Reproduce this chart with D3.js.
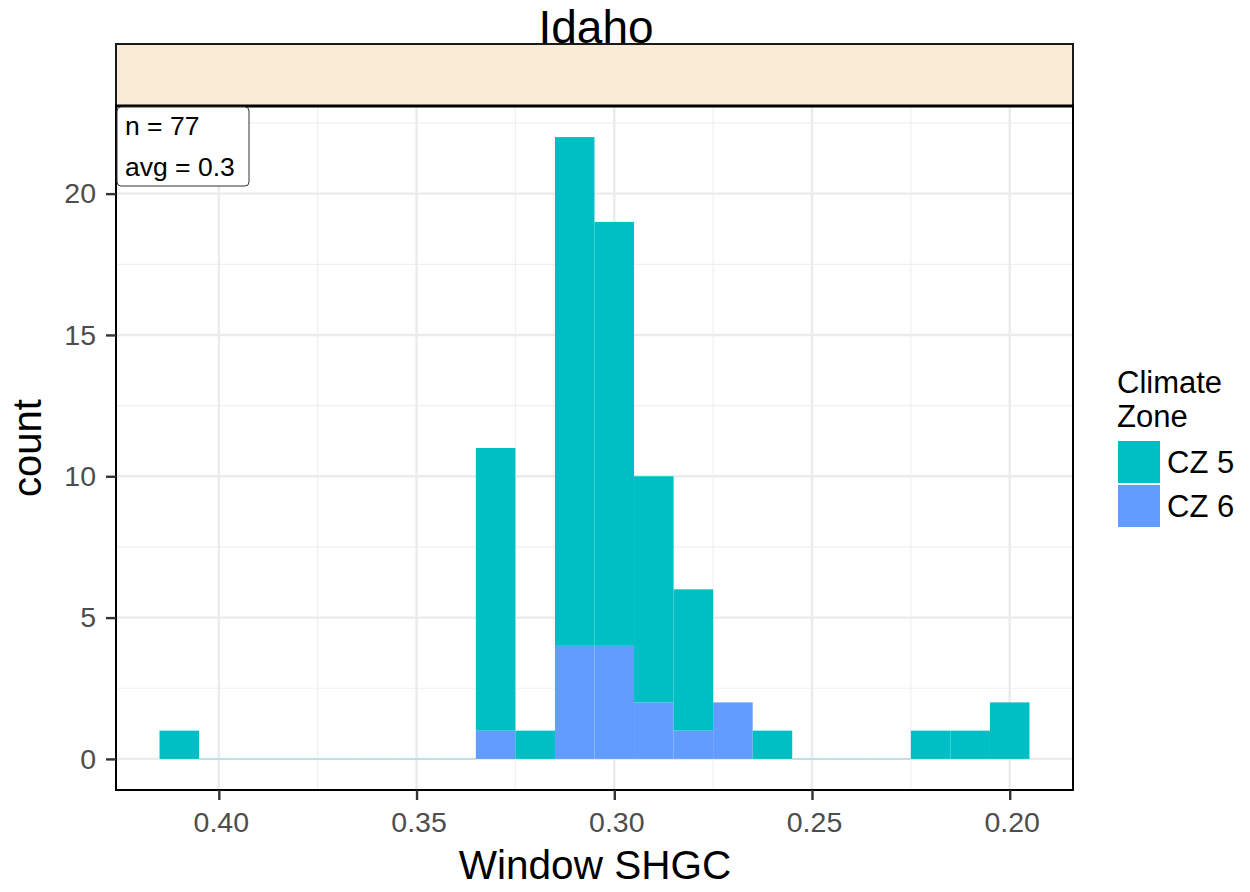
<!DOCTYPE html>
<html>
<head>
<meta charset="utf-8">
<script src="https://cdnjs.cloudflare.com/ajax/libs/d3/7.8.5/d3.min.js"></script>
<style>
  body { margin: 0; background: #fff; }
  text { font-family: "Liberation Sans", Arial, sans-serif; }
</style>
</head>
<body>
<div id="chart"></div>
<script>
// histogram bins (centres, width 0.01) and stacked counts per climate zone
var binCentres = [0.41, 0.40, 0.39, 0.38, 0.37, 0.36, 0.35, 0.34, 0.33, 0.32, 0.31,
                  0.30, 0.29, 0.28, 0.27, 0.26, 0.25, 0.24, 0.23, 0.22, 0.21, 0.20];
var cz5 = [1, 0, 0, 0, 0, 0, 0, 0, 10, 1, 18, 15, 8, 5, 0, 1, 0, 0, 0, 1, 1, 2];
var cz6 = [0, 0, 0, 0, 0, 0, 0, 0, 1, 0, 4, 4, 2, 1, 2, 0, 0, 0, 0, 0, 0, 0];
var zones = ["CZ 5", "CZ 6"];
var zoneColors = ["#00BFC4", "#619CFF"];
var xTicks = [0.40, 0.35, 0.30, 0.25, 0.20];
var xMinor = [0.375, 0.325, 0.275, 0.225];
var yTicks = [0, 5, 10, 15, 20];
var yMinor = [2.5, 7.5, 12.5, 17.5, 22.5];
var binWidth = 0.01;
var title = "Idaho";
var labelLines = ["n = 77", "avg = 0.3"];

var width = 1250, height = 892;
var panel = { left: 116, right: 1073, top: 106, bottom: 790 };

var svg = d3.select("#chart").append("svg")
    .attr("width", width)
    .attr("height", height);

// reversed x axis, ggplot style 5% expansion
var xMin = d3.min(binCentres) - binWidth / 2, xMax = d3.max(binCentres) + binWidth / 2;
var xPad = (xMax - xMin) * 0.05;
var x = d3.scaleLinear()
    .domain([xMax + xPad, xMin - xPad])
    .range([panel.left, panel.right]);

var totals = binCentres.map(function(d, i) { return cz5[i] + cz6[i]; });
var yMax = d3.max(totals);
var y = d3.scaleLinear()
    .domain([-yMax * 0.05, yMax * 1.05])
    .range([panel.bottom, panel.top]);

// grid
var g = svg.append("g");
g.selectAll(".xminor").data(xMinor).enter().append("line")
    .attr("x1", x).attr("x2", x)
    .attr("y1", panel.top).attr("y2", panel.bottom)
    .attr("stroke", "#f0f0f0").attr("stroke-width", 1.2);
g.selectAll(".yminor").data(yMinor).enter().append("line")
    .attr("x1", panel.left).attr("x2", panel.right)
    .attr("y1", y).attr("y2", y)
    .attr("stroke", "#f0f0f0").attr("stroke-width", 1.2);
g.selectAll(".xmajor").data(xTicks).enter().append("line")
    .attr("x1", x).attr("x2", x)
    .attr("y1", panel.top).attr("y2", panel.bottom)
    .attr("stroke", "#ebebeb").attr("stroke-width", 2.4);
g.selectAll(".ymajor").data(yTicks).enter().append("line")
    .attr("x1", panel.left).attr("x2", panel.right)
    .attr("y1", y).attr("y2", y)
    .attr("stroke", "#ebebeb").attr("stroke-width", 2.4);

// stacked bars: CZ 6 at bottom, CZ 5 on top
var bars = svg.append("g");
binCentres.forEach(function(c, i) {
    var x0 = x(c + binWidth / 2), x1 = x(c - binWidth / 2);
    if (totals[i] === 0) {
        bars.append("line")
            .attr("x1", x0).attr("x2", x1)
            .attr("y1", y(0)).attr("y2", y(0))
            .attr("stroke", "#b3dbe6").attr("stroke-width", 1.5);
        return;
    }
    if (cz6[i] > 0) {
        bars.append("rect")
            .attr("x", x0).attr("width", x1 - x0)
            .attr("y", y(cz6[i])).attr("height", y(0) - y(cz6[i]))
            .attr("fill", zoneColors[1]);
    }
    if (cz5[i] > 0) {
        bars.append("rect")
            .attr("x", x0).attr("width", x1 - x0)
            .attr("y", y(cz6[i] + cz5[i])).attr("height", y(cz6[i]) - y(cz6[i] + cz5[i]))
            .attr("fill", zoneColors[0]);
    }
});

// panel border
svg.append("rect")
    .attr("x", panel.left).attr("y", panel.top)
    .attr("width", panel.right - panel.left).attr("height", panel.bottom - panel.top)
    .attr("fill", "none").attr("stroke", "#000").attr("stroke-width", 2);

// axes
var xAxis = svg.append("g")
    .attr("transform", "translate(0," + panel.bottom + ")")
    .call(d3.axisBottom(x).tickValues(xTicks).tickFormat(d3.format(".2f")).tickSize(10).tickPadding(0));
var yAxis = svg.append("g")
    .attr("transform", "translate(" + panel.left + ",0)")
    .call(d3.axisLeft(y).tickValues(yTicks).tickSize(10).tickPadding(10));
[xAxis, yAxis].forEach(function(a) {
    a.select(".domain").remove();
    a.selectAll(".tick line").attr("stroke", "#333").attr("stroke-width", 2.4);
    a.selectAll(".tick text")
        .attr("fill", "#4d4d4d")
        .style("font-size", "28.5px")
        .style("font-family", "'Liberation Sans', Arial, sans-serif");
});
xAxis.selectAll(".tick text").attr("dy", null).attr("y", 42).attr("x", 2);

// axis titles
svg.append("text")
    .attr("x", 595).attr("y", 879)
    .attr("text-anchor", "middle")
    .style("font-size", "40.5px")
    .text("Window SHGC");
svg.append("text")
    .attr("transform", "translate(41,448) rotate(-90)")
    .attr("text-anchor", "middle")
    .style("font-size", "40px")
    .text("count");

// title then facet strip (strip drawn over the title as in the source)
svg.append("text")
    .attr("x", 596).attr("y", 43)
    .attr("text-anchor", "middle")
    .style("font-size", "46px")
    .text(title);
svg.append("rect")
    .attr("x", panel.left).attr("y", 44)
    .attr("width", panel.right - panel.left).attr("height", panel.top - 44)
    .attr("fill", "#FAEBD7").attr("stroke", "#1a1a1a").attr("stroke-width", 2);
svg.append("line")
    .attr("x1", panel.left - 1).attr("x2", panel.right + 1)
    .attr("y1", panel.top).attr("y2", panel.top)
    .attr("stroke", "#000").attr("stroke-width", 3);

// n / avg label
var lab = svg.append("g");
lab.append("rect")
    .attr("x", panel.left + 1).attr("y", panel.top + 1)
    .attr("width", 132).attr("height", 79)
    .attr("rx", 4).attr("ry", 4)
    .attr("fill", "#fff").attr("stroke", "#333").attr("stroke-width", 1);
lab.selectAll("text").data(labelLines).enter().append("text")
    .attr("x", panel.left + 9)
    .attr("y", function(d, i) { return 135 + i * 41; })
    .style("font-size", "26.5px")
    .text(function(d) { return d; });

// legend
var leg = svg.append("g");
leg.append("text").attr("x", 1117).attr("y", 393).style("font-size", "31px").text("Climate");
leg.append("text").attr("x", 1117).attr("y", 427).style("font-size", "31px").text("Zone");
zones.forEach(function(z, i) {
    leg.append("rect")
        .attr("x", 1118).attr("y", 441 + i * 44)
        .attr("width", 42).attr("height", 42)
        .attr("fill", zoneColors[i]);
    leg.append("text")
        .attr("x", 1167).attr("y", 473 + i * 44)
        .style("font-size", "31px")
        .text(z);
});
</script>
</body>
</html>
